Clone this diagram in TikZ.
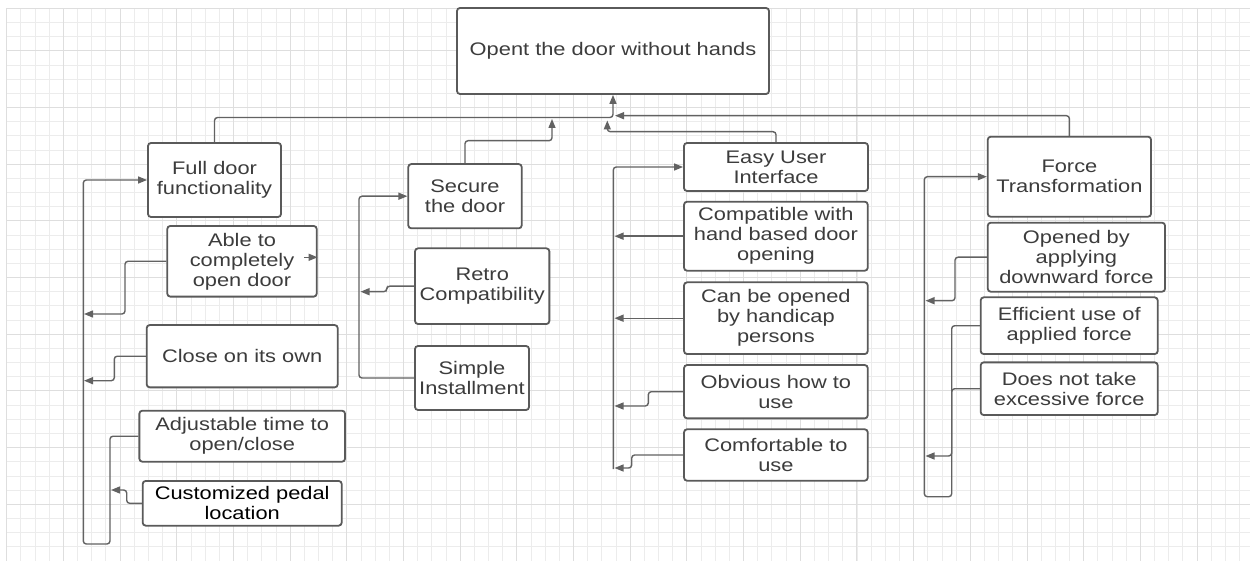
\documentclass[tikz,border=0pt]{standalone}
\usepackage{fontspec}
\setmainfont{Liberation Sans}[FakeStretch=1.2]
\usetikzlibrary{arrows.meta}
\definecolor{gridminor}{HTML}{ECECEC}
\definecolor{gridmajor}{HTML}{DEDEDE}
\definecolor{boxline}{HTML}{5A5A5A}
\definecolor{connline}{HTML}{626262}
\definecolor{txt}{HTML}{3C3C3C}
\begin{document}
\begin{tikzpicture}[x=1pt,y=-1pt,
  box/.style={draw=boxline, line width=1.8pt, rounded corners=3pt, fill=white, inner sep=0pt, align=center, text=txt, font=\fontsize{18.2}{20}\selectfont},
  conn/.style={draw=connline, line width=1.4pt, rounded corners=3pt, -{Triangle[length=9pt,width=7pt]}},
  plainline/.style={draw=connline, line width=1.4pt, rounded corners=3pt},
  gminor/.style={draw=gridminor, line width=0.8pt},
  gmajor/.style={draw=gridmajor, line width=0.9pt},
]
\useasboundingbox (0,0) rectangle (1250,561);
\fill[white] (0,0) rectangle (1250,561);
% grid
\foreach \k in {0,...,87} { \draw[gminor] ({6.7+14.17*\k},8.3) -- ({6.7+14.17*\k},561); }
\foreach \k in {0,...,38} { \draw[gminor] (6.7,{8.3+14.17*\k}) -- (1250,{8.3+14.17*\k}); }
\foreach \k in {0,...,21} { \draw[gmajor] ({6.7+56.68*\k},8.3) -- ({6.7+56.68*\k},561); }
\foreach \k in {0,...,8} { \draw[gmajor] (6.7,{50.8+56.68*\k}) -- (1250,{50.8+56.68*\k}); }
\draw[gmajor] (6.7,8.3) -- (1250,8.3);

% nodes
\node[box, minimum width=312pt, minimum height=86pt] (goal) at (613,51) {Opent the door without hands};

\node[box, minimum width=133pt, minimum height=74pt] (fdf) at (214.5,180) {Full door\\functionality};
\node[box, minimum width=149.4pt, minimum height=70.7pt] (able) at (242,261.3) {Able to\\completely\\open door};
\node[box, minimum width=191pt, minimum height=62.3pt] (close) at (242.2,356.2) {Close on its own};
\node[box, minimum width=205.7pt, minimum height=51pt] (adj) at (242.2,436.2) {Adjustable time to\\open/close};
\node[box, minimum width=199pt, minimum height=44.7pt, text=black] (cust) at (242.2,503.3) {Customized pedal\\location};

\node[box, minimum width=113.4pt, minimum height=64.3pt] (sec) at (465,196.2) {Secure\\the door};
\node[box, minimum width=134.3pt, minimum height=75.7pt] (retro) at (482.2,286.2) {Retro\\Compatibility};
\node[box, minimum width=114pt, minimum height=64pt] (simple) at (472,378) {Simple\\Installment};

\node[box, minimum width=184pt, minimum height=48pt] (eui) at (776,167) {Easy User\\Interface};
\node[box, minimum width=183.7pt, minimum height=69pt] (compat) at (775.9,236.2) {Compatible with\\hand based door\\opening};
\node[box, minimum width=183.7pt, minimum height=71.7pt] (canbe) at (775.9,318.2) {Can be opened\\by handicap\\persons};
\node[box, minimum width=183.7pt, minimum height=53.3pt] (obv) at (775.9,391.7) {Obvious how to\\use};
\node[box, minimum width=183.7pt, minimum height=51.4pt] (comf) at (775.9,455) {Comfortable to\\use};

\node[box, minimum width=163.3pt, minimum height=80pt] (force) at (1069.4,176.7) {Force\\Transformation};
\node[box, minimum width=177.3pt, minimum height=69pt] (opened) at (1076.4,257.2) {Opened by\\applying\\downward force};
\node[box, minimum width=177pt, minimum height=56.7pt] (eff) at (1069.2,325.7) {Efficient use of\\applied force};
\node[box, minimum width=177pt, minimum height=52.7pt] (dnt) at (1069.2,388.7) {Does not take\\excessive force};

% junction coordinates (top)
\coordinate (jl) at (613,117.5);
\coordinate (jr) at (615,115.7);
\coordinate (jsb) at (552,140.7);
\coordinate (jst) at (552,119);
\coordinate (jeb) at (607.3,131.7);
\coordinate (jet) at (607.3,120.5);

\draw[conn] (fdf.north) |- (jl) -- (goal.south);
\draw[conn] (force.north) |- (jr);
\draw[conn] (sec.north) |- (jsb) -- (jst);
\draw[conn] (eui.north) |- (jeb) -- (jet);

% left group
\coordinate (L1) at (83.3,544);
\coordinate (L2) at (110,544);
\coordinate (ta) at (84,314);
\coordinate (tc) at (84,380.7);
\coordinate (tu) at (111,490);
\draw[conn] (adj.west) -| (L2) -- (L1) |- (fdf.west);
\draw[conn] (able.west) -| (125,314) -- (ta);
\draw[conn] (close.west) -| (114.3,380.7) -- (tc);
\draw[conn] (cust.west) -| (126.7,490) -- (tu);
\coordinate (sa) at (304,257.3);
\draw[conn] (sa) -- (able.east |- sa);

% secure group
\coordinate (S1) at (359,378);
\coordinate (tr) at (360.5,291.7);
\draw[conn] (simple.west) -- (S1) |- (sec.west);
\draw[conn] (retro.west) -| (386.7,291.7) -- (tr);

% easy user interface group
\coordinate (E1) at (613.3,469);
\coordinate (tcp) at (614.5,236.2);
\coordinate (tcb) at (614.5,318.2);
\coordinate (tob) at (614.5,406);
\coordinate (tcf) at (614.5,468);
\draw[conn] (E1) |- (eui.west);
\draw[conn] (compat.west) -- (tcp);
\draw[conn] (canbe.west) -- (tcb);
\draw[conn] (obv.west) -| (648.3,406) -- (tob);
\draw[conn] (comf.west) -| (631.7,468) -- (tcf);

% force group
\coordinate (F1) at (951.7,496.7);
\coordinate (F2) at (924.3,496.7);
\coordinate (top1) at (925.5,300.7);
\coordinate (tdn) at (925.5,456);
\draw[conn] (eff.west) -| (F1) -- (F2) |- (force.west);
\draw[conn] (opened.west) -| (955,300.7) -- (top1);
\draw[conn] (dnt.west) -| (951.7,456) -- (tdn);
\end{tikzpicture}
\end{document}
